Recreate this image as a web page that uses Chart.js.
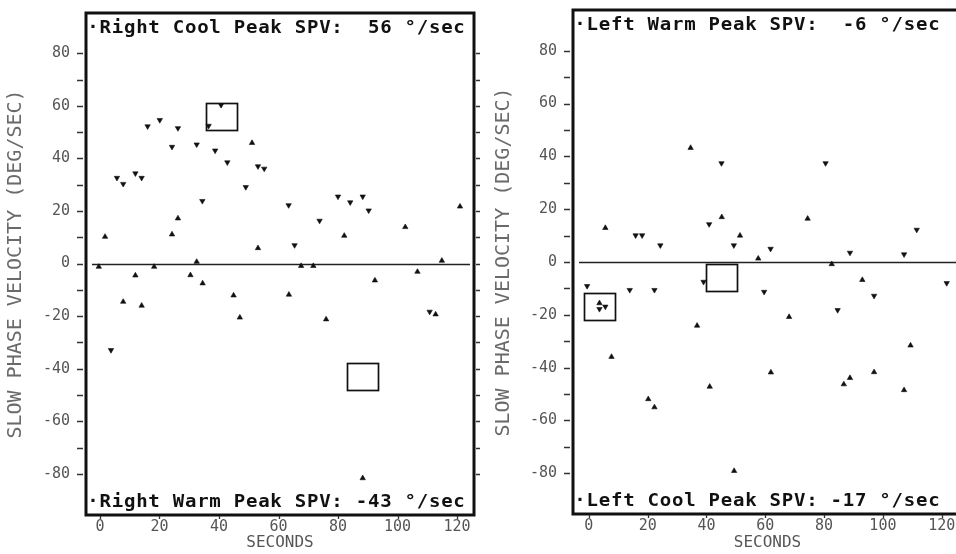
<!DOCTYPE html>
<html>
<head>
<meta charset="utf-8">
<title>Caloric test – slow phase velocity</title>
<script src="https://cdn.jsdelivr.net/npm/chart.js@4.4.1/dist/chart.umd.min.js"></script>
<style>
  html, body { margin: 0; padding: 0; background: #fff; overflow: hidden; }
  body { width: 956px; height: 554px; position: relative; }
  .panel { position: absolute; top: 0; width: 480px; height: 554px; }
  #rightEarPanel { left: 0; }
  #leftEarPanel { left: 488px; }
</style>
</head>
<body>
<div class="panel" id="rightEarPanel"><canvas id="rightEarChart" width="480" height="554"></canvas></div>
<div class="panel" id="leftEarPanel"><canvas id="leftEarChart" width="480" height="554"></canvas></div>
<script>
// Axis ticks (seconds / deg per sec)
const xTicks = [0, 20, 40, 60, 80, 100, 120];
const yTicks = [-80, -60, -40, -20, 0, 20, 40, 60, 80];

// Right ear, cool irrigation (down triangles)
const rightCoolSec = [3.7, 5.7, 7.8, 11.9, 14.0, 16.0, 20.1, 24.2, 26.2, 32.5, 34.4, 36.5, 38.7, 40.7, 42.8,
  49.0, 53.1, 55.2, 63.4, 65.4, 73.8, 80.0, 84.1, 88.3, 90.3, 110.8];
const rightCoolSpv = [-32.9, 32.6, 30.3, 34.3, 32.6, 52.2, 54.6, 44.4, 51.5, 45.3, 23.8, 52.4, 43.0, 60.3, 38.5,
  29.1, 37.0, 36.1, 22.2, 7.0, 16.3, 25.5, 23.3, 25.5, 20.2, -18.3];

// Right ear, warm irrigation (up triangles)
const rightWarmSec = [-0.4, 1.7, 7.8, 11.9, 14.0, 18.2, 24.2, 26.2, 30.4, 32.5, 34.5, 44.9, 47.0, 51.1, 53.1,
  63.5, 67.6, 71.7, 76.0, 82.1, 88.3, 92.4, 102.6, 106.7, 112.8, 114.9, 121.0];
const rightWarmSpv = [-1.2, 10.2, -14.5, -4.5, -16.0, -1.2, 11.1, 17.2, -4.4, 0.7, -7.5, -12.1, -20.5, 45.9, 5.9,
  -11.8, -0.9, -0.9, -21.2, 10.6, -81.6, -6.4, 13.9, -3.1, -19.3, 1.1, 21.7];

// Left ear, warm irrigation (down triangles)
const leftWarmSec = [-0.6, 3.6, 5.6, 13.9, 15.9, 18.1, 22.3, 24.3, 39.0, 40.9, 45.1, 49.3, 59.6, 61.8, 80.5,
  84.6, 88.8, 97.0, 107.2, 111.5, 121.7];
const leftWarmSpv = [-9.1, -17.8, -16.9, -10.6, 10.1, 10.1, -10.6, 6.3, -7.5, 14.3, 37.4, 6.3, -11.3, 5.0, 37.4,
  -18.2, 3.5, -12.8, 2.9, 12.2, -8.0];

// Left ear, cool irrigation (up triangles)
const leftCoolSec = [3.6, 5.6, 7.7, 20.2, 22.3, 34.6, 36.8, 41.1, 45.2, 49.4, 51.4, 57.6, 61.9, 68.1, 74.4,
  82.6, 86.7, 88.8, 93.0, 97.0, 107.2, 109.4];
const leftCoolSpv = [-15.6, 12.9, -35.9, -51.9, -55.0, 43.2, -24.1, -47.2, 17.0, -79.1, 10.0, 1.3, -41.8, -20.8, 16.4,
  -0.8, -46.3, -43.9, -6.8, -41.7, -48.5, -31.6];

// Peak SPV windows: [top label, bottom label]
const rightPeakSec = [40.8, 88.2];
const rightPeakSpv = [56, -43];
const leftPeakSec = [45.1, 3.6];
const leftPeakSpv = [-6, -17];

const INK = '#111';
const GREY = '#555';
const MONO = "'DejaVu Sans Mono', 'Liberation Mono', monospace";

function peakLine(name, value) {
  return '·' + name + ' Peak SPV: ' + String(value).padStart(3, ' ') + ' °/sec';
}

// Frame, zero line, peak windows, outside tick marks and the two header lines
const panelDecor = {
  id: 'panelDecor',
  beforeDatasetsDraw(chart) {
    const { ctx, chartArea: a, scales: { y } } = chart;
    const y0 = Math.round(y.getPixelForValue(0)) + 0.5;
    ctx.save();
    ctx.strokeStyle = '#222';
    ctx.lineWidth = 1.7;
    ctx.beginPath();
    ctx.moveTo(a.left + 6, y0);
    ctx.lineTo(a.right - 4, y0);
    ctx.stroke();
    ctx.restore();
  },
  afterDatasetsDraw(chart, args, opts) {
    const { ctx, chartArea: a, scales: { x, y } } = chart;
    ctx.save();
    ctx.strokeStyle = INK;

    // peak windows, +-5 s and +-5 deg/s around the peak value
    ctx.lineWidth = 1.7;
    opts.peakSec.forEach((t, i) => {
      const v = opts.peakSpv[i];
      const x1 = x.getPixelForValue(t - 5.2);
      const x2 = x.getPixelForValue(t + 5.2);
      const y1 = y.getPixelForValue(v + 5.1);
      const y2 = y.getPixelForValue(v - 5.1);
      ctx.strokeRect(Math.round(x1) + 0.5, Math.round(y1) + 0.5, Math.round(x2 - x1), Math.round(y2 - y1));
    });

    // heavy plot frame
    ctx.lineWidth = 3;
    ctx.strokeRect(a.left, a.top, a.right - a.left, a.bottom - a.top);

    // outside tick marks every 10 deg/s on both sides
    ctx.lineWidth = 1.3;
    ctx.strokeStyle = '#333';
    ctx.beginPath();
    for (let v = -80; v <= 80; v += 10) {
      const py = Math.round(y.getPixelForValue(v)) + 0.5;
      ctx.moveTo(a.left - 9, py);
      ctx.lineTo(a.left - 3, py);
      ctx.moveTo(a.right + 2, py);
      ctx.lineTo(a.right + 7, py);
    }
    xTicks.forEach((t) => {
      const px = Math.round(x.getPixelForValue(t)) + 0.5;
      ctx.moveTo(px, a.bottom + 1);
      ctx.lineTo(px, a.bottom + 4);
    });
    ctx.stroke();

    // header lines, fixed pitch with widened glyphs like the plotter font
    ctx.fillStyle = INK;
    ctx.font = 'bold 17px ' + MONO;
    ctx.textAlign = 'center';
    ctx.textBaseline = 'alphabetic';
    const pitch = 12.2;
    const drawLine = (text, baseY) => {
      [...text].forEach((ch, i) => {
        ctx.save();
        ctx.translate(a.left + opts.textInset + pitch * i + pitch / 2, baseY);
        ctx.scale(1.12, 1);
        ctx.fillText(ch, 0, 0);
        ctx.restore();
      });
    };
    drawLine(opts.topText, a.top + 19.5);
    drawLine(opts.bottomText, a.bottom - 8);
    ctx.restore();
  },
};

function series(secs, spvs, rotation) {
  return {
    data: secs.map((t, i) => ({ x: t, y: spvs[i] })),
    pointStyle: 'triangle',
    rotation,
    pointRadius: 3.1,
    pointBorderWidth: 0.6,
    pointBackgroundColor: INK,
    pointBorderColor: INK,
    showLine: false,
  };
}

function makePanel(canvasId, cfg) {
  const tickFont = { family: MONO, size: 15 };
  // eslint-disable-next-line no-undef
  return new Chart(document.getElementById(canvasId), {
    type: 'scatter',
    data: {
      datasets: [
        series(cfg.downSec, cfg.downSpv, 180),
        series(cfg.upSec, cfg.upSpv, 0),
      ],
    },
    options: {
      responsive: false,
      animation: false,
      events: [],
      layout: { padding: { top: cfg.top, right: 6, left: 0, bottom: 0 } },
      scales: {
        x: {
          type: 'linear',
          min: cfg.xMin,
          max: cfg.xMax,
          afterBuildTicks: (s) => { s.ticks = xTicks.map((v) => ({ value: v })); },
          afterFit: (s) => {
            s.height = 554 - cfg.bottom;
            s.paddingLeft = 0;
            s.paddingRight = 0;
          },
          grid: { display: false, drawTicks: false },
          border: { display: false },
          ticks: { font: tickFont, color: GREY, padding: 3, maxRotation: 0, autoSkip: false },
          title: {
            display: true,
            text: 'SECONDS',
            font: { family: MONO, size: 16 },
            color: GREY,
            padding: { top: 0, bottom: 2 },
          },
        },
        y: {
          min: cfg.yMin,
          max: cfg.yMax,
          afterBuildTicks: (s) => { s.ticks = yTicks.map((v) => ({ value: v })); },
          afterFit: (s) => {
            s.width = cfg.left;
            s.paddingTop = 0;
            s.paddingBottom = 0;
          },
          grid: { display: false, drawTicks: false },
          border: { display: false },
          ticks: { font: tickFont, color: GREY, padding: 16, autoSkip: false },
          title: {
            display: true,
            text: 'SLOW PHASE VELOCITY (DEG/SEC)',
            font: { family: MONO, size: 20 },
            color: '#6a6a6a',
            padding: { top: 4, bottom: 0 },
          },
        },
      },
      plugins: {
        legend: { display: false },
        tooltip: { enabled: false },
        panelDecor: {
          peakSec: cfg.peakSec,
          peakSpv: cfg.peakSpv,
          topText: cfg.topText,
          bottomText: cfg.bottomText,
          textInset: 1,
        },
      },
    },
    plugins: [panelDecor],
  });
}

Chart.defaults.font.family = MONO;

makePanel('rightEarChart', {
  downSec: rightCoolSec, downSpv: rightCoolSpv,
  upSec: rightWarmSec, upSpv: rightWarmSpv,
  peakSec: rightPeakSec, peakSpv: rightPeakSpv,
  topText: peakLine('Right Cool', rightPeakSpv[0]),
  bottomText: peakLine('Right Warm', rightPeakSpv[1]),
  xMin: -4.7, xMax: 125.7, yMin: -95.6, yMax: 95.3,
  left: 86, top: 13, bottom: 515,
});

makePanel('leftEarChart', {
  downSec: leftWarmSec, downSpv: leftWarmSpv,
  upSec: leftCoolSec, upSpv: leftCoolSpv,
  peakSec: leftPeakSec, peakSpv: leftPeakSpv,
  topText: peakLine('Left Warm', leftPeakSpv[0]),
  bottomText: peakLine('Left Cool', leftPeakSpv[1]),
  xMin: -5.4, xMax: 126.9, yMin: -95.4, yMax: 95.4,
  left: 85, top: 10, bottom: 514,
});
</script>
</body>
</html>
